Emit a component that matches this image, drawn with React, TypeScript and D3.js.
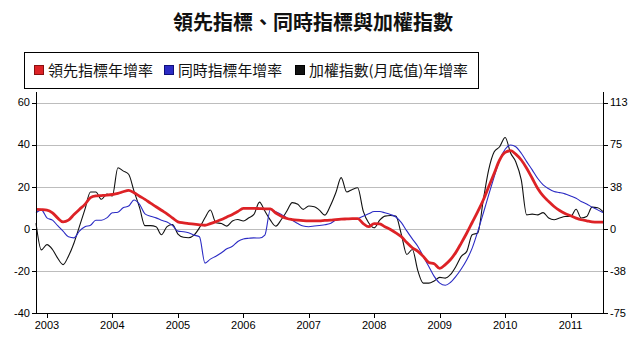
import React from "react";
import * as d3 from "d3";

// monthly series, Nov 2002 .. Jul 2011
const startMonth = new Date(2002, 10, 1);

// 領先指標年增率 (left axis, %)
const leadingYoY = [
  9.2, 9.1, 8.9, 7.6, 5.2, 3.3, 4.1, 6.8, 9.2, 11.6, 14.8, 15.6, 15.8, 16.0, 16.3, 16.8,
  17.6, 18.3, 17.1, 15.5, 14.0, 12.2, 10.5, 8.8, 7.1, 5.2, 3.3, 2.8, 2.5, 2.2, 1.9, 1.7,
  2.5, 3.4, 4.4, 5.6, 6.8, 8.2, 9.7, 9.7, 9.7, 9.6, 9.5, 9.5, 7.5, 6.0, 4.9, 4.4,
  4.1, 3.9, 3.8, 3.8, 3.8, 4.0, 4.1, 4.4, 4.6, 4.7, 4.8, 4.8, 2.5, 1.0, 2.5, 2.3,
  1.0, -0.3, -1.9, -3.8, -6.5, -9.0, -10.7, -13.1, -16.0, -16.6, -18.8, -17.0, -14.7, -11.2, -6.8, -2.0,
  3.0, 8.2, 13.7, 20.0, 26.4, 32.7, 36.3, 37.1, 35.5, 32.7, 28.8, 24.0, 19.3, 15.6, 13.0, 10.6,
  8.7, 7.3, 6.2, 5.1, 4.3, 3.8, 3.3, 3.2, 3.2,
];

// 同時指標年增率 (left axis, %)
const coincidentYoY = [
  7.6, 9.0, 5.2, 4.1, 1.6, -1.1, -3.8, -4.3, -1.1, 1.0, 1.7, 4.1, 4.1, 5.2, 7.6, 7.9,
  10.0, 10.8, 13.7, 11.6, 7.1, 6.0, 5.2, 4.1, 3.2, 1.6, -1.1, -1.4, -1.9, -3.0, -3.8, -16.3,
  -14.4, -13.0, -11.4, -9.5, -8.3, -6.0, -4.8, -4.5, -4.3, -4.4, -3.0, 9.2, 8.1, 6.8, 5.2, 4.1,
  2.5, 1.3, 1.0, 1.3, 1.6, 1.9, 2.5, 4.1, 4.4, 4.4, 4.8, 4.9, 6.0, 7.1, 8.2, 8.2,
  7.6, 6.8, 5.6, 2.9, -1.0, -4.8, -8.4, -13.1, -17.9, -22.6, -25.8, -26.8, -25.5, -22.6, -19.1, -14.7,
  -9.2, -1.3, 7.4, 16.1, 24.8, 32.7, 37.8, 39.8, 39.0, 35.9, 31.9, 28.0, 24.0, 20.9, 19.0, 17.7,
  17.2, 16.6, 15.6, 14.5, 13.0, 11.8, 10.3, 9.0, 7.7,
];

// 加權指數(月底值)年增率 (right axis, %)
const taiexYoY = [
  5.1, -18.8, -14.1, -18.4, -25.9, -31.9, -24.4, -12.6, 1.9, 17.3, 32.8, 32.8, 26.3, 30.9, 29.3, 54.4,
  51.6, 48.6, 33.6, 18.8, 2.8, 2.8, 1.9, -5.3, 1.9, 3.8, -4.7, -7.5, -7.9, -5.6, 0.9, 9.8,
  16.7, 5.4, 4.7, 2.4, 6.9, 8.3, 6.9, 9.8, 12.8, 23.8, 15.8, 7.7, 2.4, 8.3, 15.8, 23.3,
  21.8, 17.3, 20.3, 19.7, 16.7, 12.2, 20.3, 32.1, 45.6, 32.8, 35.1, 36.6, 15.8, 5.4, 0.9, 7.7,
  11.3, 11.8, 11.3, -5.1, -22.9, -18.4, -37.5, -48.4, -48.4, -46.5, -43.3, -43.9, -40.9, -33.6, -24.6, -20.1,
  -5.3, -3.8, 25.7, 52.5, 68.6, 73.1, 81.4, 67.3, 59.8, 43.5, 12.4, 13.1, 12.4, 14.4, 9.6, 8.1,
  9.6, 10.9, 10.9, 17.4, 9.6, 10.9, 19.3, 18.8, 15.4,
];

const yearTicks = [2003, 2004, 2005, 2006, 2007, 2008, 2009, 2010, 2011];
const leftTicks = [-40, -20, 0, 20, 40, 60];
const rightTicks = [-75, -37.5, 0, 37.5, 75, 112.5];
const rightTickLabels = ["-75", "-38", "0", "38", "75", "113"];

const titleText = "領先指標、同時指標與加權指數";
const legendLabels = ["領先指標年增率", "同時指標年增率", "加權指數(月底值)年增率"];
const seriesColors = ["#dd2226", "#2b2bc4", "#111111"];

const W = 637;
const H = 354;
const plot = { left: 36, right: 603, top: 92, bottom: 313 };

const cjk = "'Noto Sans CJK TC', 'Noto Sans CJK SC', sans-serif";
const latin = "'Liberation Sans', Arial, sans-serif";

export default function App() {
  const months = leadingYoY.map((_, i) => d3.timeMonth.offset(startMonth, i));

  const x = d3
    .scaleTime()
    .domain([startMonth, d3.timeMonth.offset(startMonth, leadingYoY.length - 1)])
    .range([plot.left, plot.right]);
  const yLeft = d3.scaleLinear().domain([-40, 65]).range([plot.bottom, plot.top]);
  const yRight = d3.scaleLinear().domain([-75, 65 * 1.875]).range([plot.bottom, plot.top]);

  const lineLeft = d3
    .line<number>()
    .x((_, i) => x(months[i]))
    .y((d) => yLeft(d))
    .curve(d3.curveMonotoneX);
  const lineRight = d3
    .line<number>()
    .x((_, i) => x(months[i]))
    .y((d) => yRight(d))
    .curve(d3.curveMonotoneX);

  // legend geometry
  const legendX = [34, 164, 295];
  const legendTextW = [105, 104, 159];

  return (
    <svg
      width={W}
      height={H}
      style={{ position: "absolute", left: 0, top: 0, background: "#fff" }}
    >
      <rect x={0} y={0} width={W} height={H} fill="#fff" />
      <text
        x={313}
        y={30}
        textAnchor="middle"
        fontFamily={cjk}
        fontSize={20}
        fontWeight="bold"
        fill="#111"
      >
        {titleText}
      </text>

      {/* legend */}
      <rect x={24.5} y={52.5} width={454} height={36} fill="#fff" stroke="#000" />
      {legendLabels.map((label, i) => (
        <g key={label}>
          <rect
            x={legendX[i] + 0.5}
            y={65.5}
            width={9}
            height={9}
            fill={seriesColors[i]}
            stroke={i === 0 ? "#8a1010" : i === 1 ? "#10107a" : "#000"}
          />
          <text
            x={legendX[i] + 14}
            y={76}
            fontFamily={cjk}
            fontSize={14.5}
            fill="#111"
            textLength={legendTextW[i]}
            lengthAdjust="spacingAndGlyphs"
          >
            {label}
          </text>
        </g>
      ))}

      {/* grid */}
      {leftTicks
        .filter((t) => t !== -40)
        .map((t) => (
          <line
            key={"g" + t}
            x1={plot.left}
            x2={plot.right}
            y1={Math.round(yLeft(t)) + 0.5}
            y2={Math.round(yLeft(t)) + 0.5}
            stroke="#bdbdbd"
          />
        ))}

      {/* series */}
      <path d={lineRight(taiexYoY) ?? ""} fill="none" stroke={seriesColors[2]} strokeWidth={1.1} />
      <path d={lineLeft(coincidentYoY) ?? ""} fill="none" stroke={seriesColors[1]} strokeWidth={1.1} />
      <path
        d={lineLeft(leadingYoY) ?? ""}
        fill="none"
        stroke={seriesColors[0]}
        strokeWidth={2.8}
        strokeLinejoin="round"
      />

      {/* axes */}
      <g stroke="#000" fill="none">
        <line x1={plot.left + 0.5} x2={plot.left + 0.5} y1={plot.top} y2={plot.bottom} />
        <line x1={plot.right + 0.5} x2={plot.right + 0.5} y1={plot.top} y2={plot.bottom} />
        <line x1={plot.left} x2={plot.right + 1} y1={plot.bottom + 0.5} y2={plot.bottom + 0.5} />
        {leftTicks.map((t) => (
          <line
            key={"lt" + t}
            x1={plot.left - 4}
            x2={plot.left}
            y1={Math.round(yLeft(t)) + 0.5}
            y2={Math.round(yLeft(t)) + 0.5}
          />
        ))}
        {rightTicks.map((t) => (
          <line
            key={"rt" + t}
            x1={plot.right + 1}
            x2={plot.right + 5}
            y1={Math.round(yRight(t)) + 0.5}
            y2={Math.round(yRight(t)) + 0.5}
          />
        ))}
        {yearTicks.map((yr) => {
          const px = Math.round(x(new Date(yr, 0, 1))) + 0.5;
          return <line key={"xt" + yr} x1={px} x2={px} y1={plot.bottom} y2={plot.bottom + 5} />;
        })}
      </g>

      <g fontFamily={latin} fontSize={11} fill="#000">
        {leftTicks.map((t) => (
          <text key={"ll" + t} x={plot.left - 6} y={yLeft(t)} dy="0.35em" textAnchor="end">
            {t}
          </text>
        ))}
        {rightTicks.map((t, i) => (
          <text key={"rl" + t} x={plot.right + 7} y={yRight(t)} dy="0.35em">
            {rightTickLabels[i]}
          </text>
        ))}
        {yearTicks.map((yr) => (
          <text key={"xl" + yr} x={x(new Date(yr, 0, 1))} y={329} textAnchor="middle">
            {yr}
          </text>
        ))}
      </g>
    </svg>
  );
}
